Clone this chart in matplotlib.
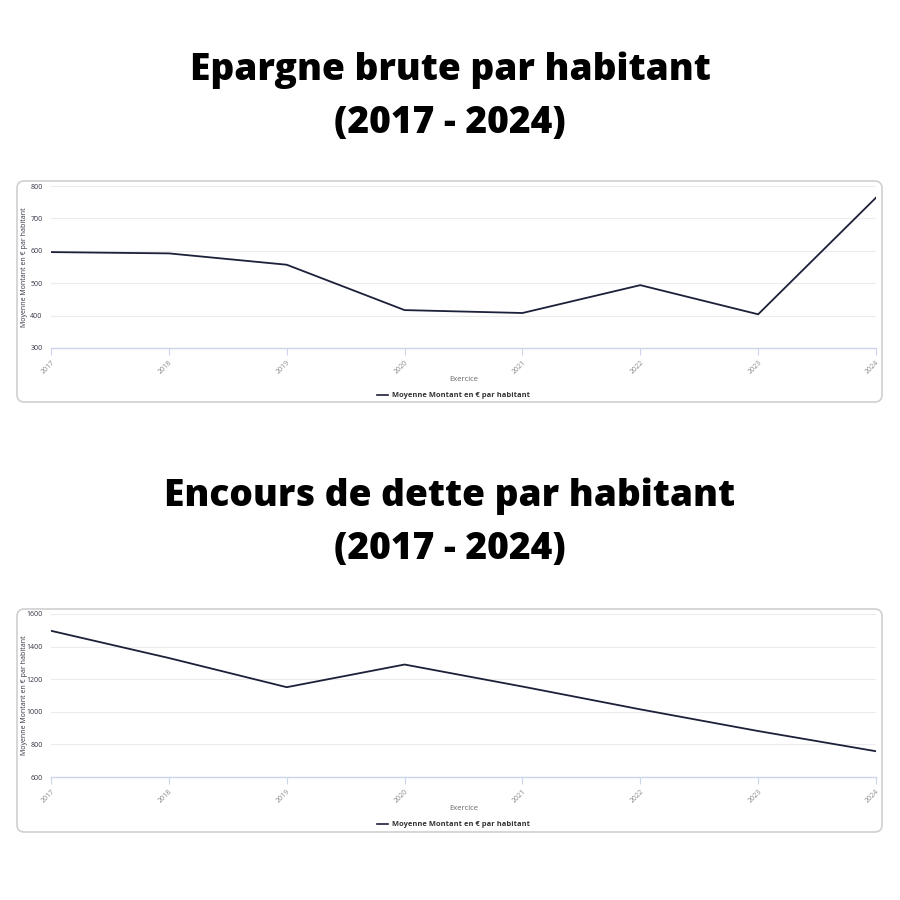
import matplotlib
matplotlib.use('Agg')
import matplotlib.pyplot as plt
from matplotlib.patches import FancyBboxPatch
from matplotlib.lines import Line2D

# Data
years = ['2017', '2018', '2019', '2020', '2021', '2022', '2023', '2024']
epargne = [596, 592, 557, 417, 408, 494, 404, 764]
dette = [1497, 1330, 1151, 1290, 1155, 1015, 882, 758]

titles = ['Epargne brute par habitant\n(2017 - 2024)',
          'Encours de dette par habitant\n(2017 - 2024)']
y_label = 'Moyenne Montant en € par habitant'
x_label = 'Exercice'
legend_label = 'Moyenne Montant en € par habitant'

LINE = '#1c2038'
GRID = '#ececec'
AXIS = '#ccd6eb'
TXT = '#666666'

plt.rcParams['font.family'] = ['Open Sans', 'DejaVu Sans']

fig = plt.figure(figsize=(9, 9), dpi=100)
W, H = 900, 900


def px_axes(x0, y0, x1, y1):
    # pixel box (top-left origin) -> figure fraction
    return [x0 / W, 1 - y1 / H, (x1 - x0) / W, (y1 - y0) / H]


def draw_panel(values, ylim, yticks, box, plot):
    # card background
    bx0, by0, bx1, by1 = box
    card = FancyBboxPatch((bx0 / W, 1 - by1 / H), (bx1 - bx0) / W, (by1 - by0) / H,
                          boxstyle='round,pad=0,rounding_size=0.008',
                          transform=fig.transFigure, facecolor='white',
                          edgecolor='#d0d0d0', linewidth=1.2, zorder=-5)
    fig.patches.append(card)

    ax = fig.add_axes(px_axes(*plot))
    ax.set_zorder(2)
    x = list(range(len(years)))
    ax.plot(x, values, color=LINE, linewidth=1.3, zorder=3)
    ax.set_xlim(0, len(years) - 1)
    ax.set_ylim(*ylim)
    ax.set_yticks(yticks)
    ax.set_yticklabels([str(t) for t in yticks], fontsize=5, color='#333344')
    ax.set_xticks(x)
    ax.set_xticklabels(years, rotation=45, ha='right', rotation_mode='anchor',
                       fontsize=5, color='#888888')
    ax.tick_params(axis='y', length=0, pad=6)
    ax.tick_params(axis='x', length=5, width=0.8, color=AXIS, pad=3, direction='out')
    ax.grid(axis='y', color=GRID, linewidth=0.8)
    ax.set_axisbelow(True)
    for s in ['top', 'right', 'left']:
        ax.spines[s].set_visible(False)
    ax.spines['bottom'].set_color(AXIS)
    ax.spines['bottom'].set_linewidth(1)
    ax.set_facecolor('none')
    ax.set_ylabel(y_label, fontsize=5, color='#333344')
    ax.yaxis.set_label_coords(-0.028, 0.5)
    ax.set_xlabel(x_label, fontsize=5.5, color=TXT)
    ax.xaxis.set_label_coords(0.5, -0.17)
    handle = Line2D([0], [0], color=LINE, linewidth=1.2)
    ax.legend([handle], [legend_label], loc='upper center',
              bbox_to_anchor=(0.488, -0.23), frameon=False,
              prop={'size': 5.4, 'weight': 'bold'}, handlelength=1.5,
              handletextpad=0.6, labelcolor='#333333')
    return ax


draw_panel(epargne, (300, 800), [300, 400, 500, 600, 700, 800],
           (17, 181, 882, 402), (51, 186, 876, 348))
draw_panel(dette, (600, 1600), [600, 800, 1000, 1200, 1400, 1600],
           (17, 609, 882, 832), (51, 614, 876, 777))

fig.text(0.5, 1 - 97 / H, titles[0], ha='center', va='center', fontsize=26.7,
         fontweight='heavy', color='black', linespacing=1.58)
fig.text(0.5, 1 - 523 / H, titles[1], ha='center', va='center', fontsize=26.7,
         fontweight='heavy', color='black', linespacing=1.58)

fig.savefig('out.png', dpi=100, facecolor='white')
